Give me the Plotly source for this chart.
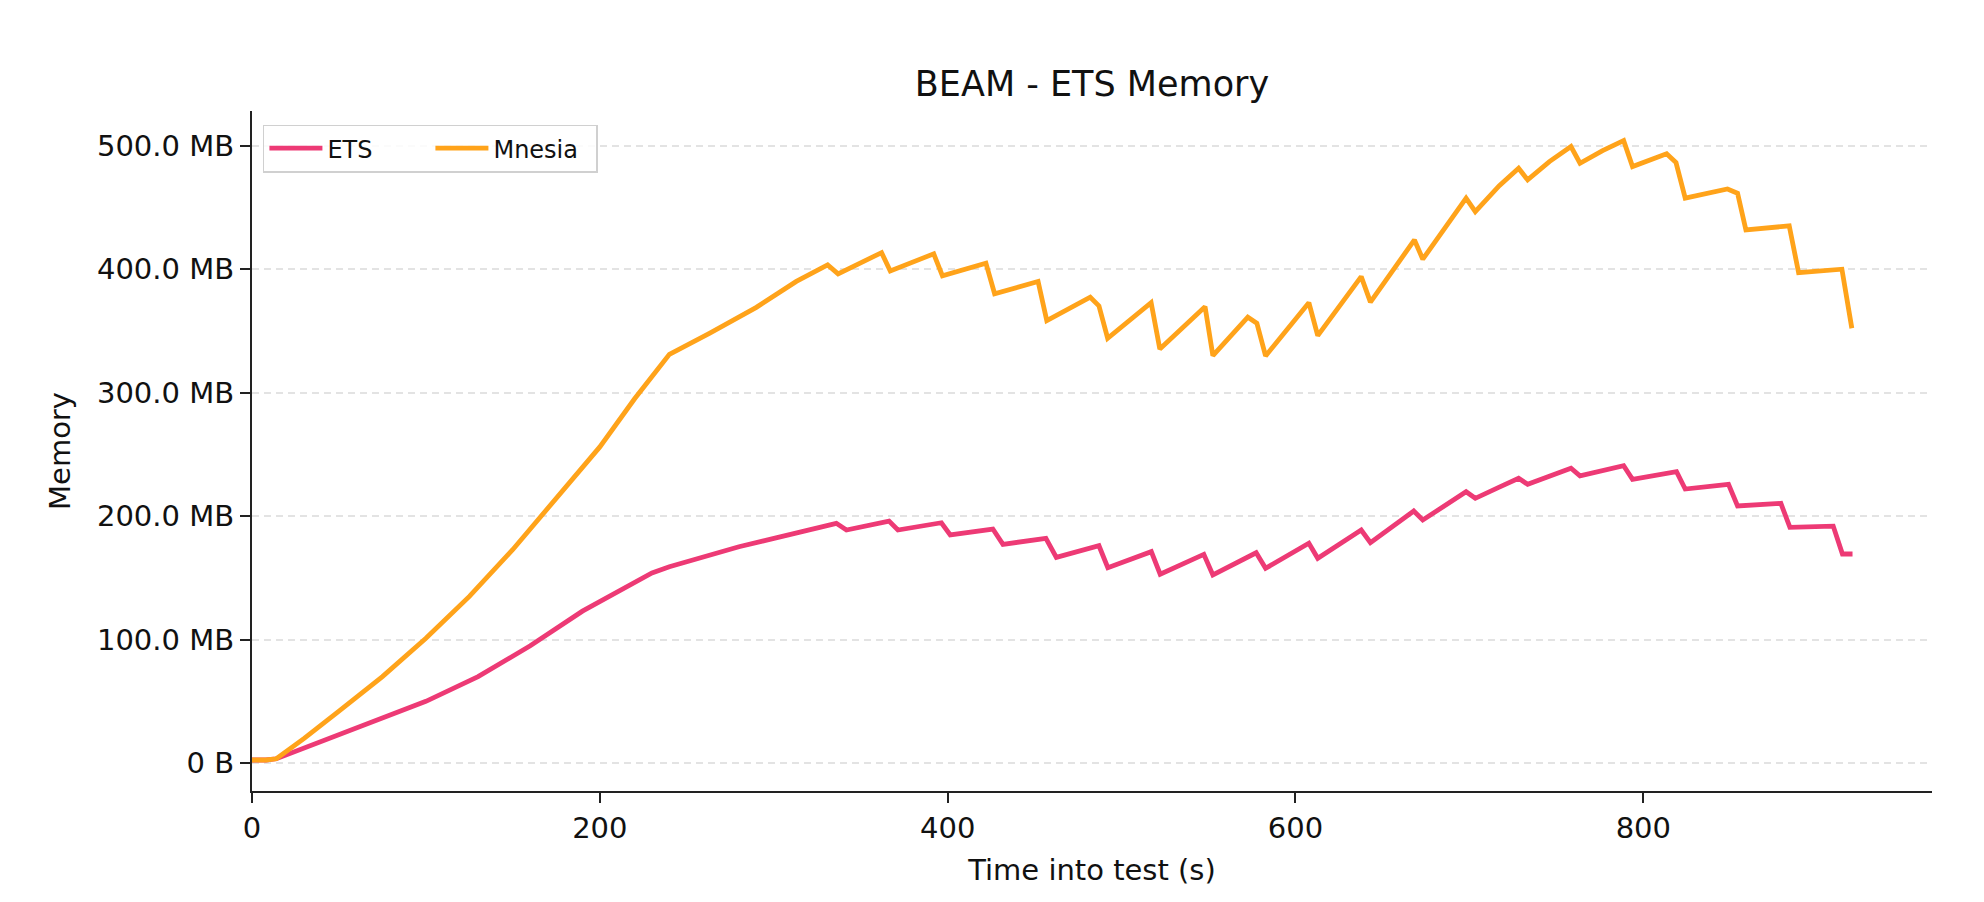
import plotly.graph_objects as go

# ---- data (MB over seconds into test) ----
ets_time = [0, 8, 14, 40, 70, 100, 130, 160, 190, 215, 230, 240, 280, 336, 341.8, 366.3, 371.4,
            396.4, 401.5, 426, 431.8, 456.5, 462.5, 487, 492.1, 517.1, 522.2, 547.3,
            552.5, 577.4, 582.8, 607.7, 612.8, 637.8, 643.1, 668, 673.2, 698.1, 703.4,
            717.2, 728.3, 733.5, 758.4, 763.6, 788.7, 793.8, 819.1, 824.1, 849, 854.2,
            879.1, 884.3, 909.2, 914.5, 920.3]
ets_mb = [2.5, 2.5, 3.5, 17.5, 33, 50, 70, 95, 123, 143, 154, 159, 175.2, 194.1, 188.7, 196, 188.7,
          194.6, 184.7, 189.5, 177.1, 182, 166.6, 176, 158.2, 171.2, 152.9, 169,
          152.3, 170.3, 157.7, 178, 165.8, 188.7, 178.4, 204.1, 196.8, 219.7, 214.4,
          223.5, 230.6, 225.7, 238.7, 232.5, 240.8, 229.8, 236, 221.9, 225.7, 208.2,
          210.3, 190.9, 191.9, 169.3, 169.3]

mnesia_time = [0, 8, 14, 30, 50, 75, 100, 125, 150, 175, 200, 220, 240, 263, 290, 313, 331, 337,
               362, 367, 392, 397, 422, 427, 452, 457, 482, 487, 492, 517, 522, 548, 552.5,
               572.6, 577.8, 582.8, 607.7, 612.8, 637.8, 643.1, 668.4, 673.2, 698.1, 703.4,
               717.2, 728.3, 733.5, 746, 758.4, 763.6, 776.6, 788.7, 793.8, 813.4, 818.8,
               824.1, 848.4, 854.2, 859, 883.9, 889.3, 914.2, 919.9]
mnesia_mb = [2.5, 2.5, 3.5, 20, 42, 70, 101, 135, 173, 214, 256, 295, 331, 348, 369, 390, 403.4,
             396.1, 413.3, 398.5, 412.3, 394.5, 404.8, 380, 389.9, 358.3, 377.2, 370.2, 344,
             372.8, 335.3, 369.6, 329.9, 361, 356.2, 329.7, 372.8, 346.1, 393.9, 373.2, 423.6,
             408, 457.4, 446.5, 467.5, 481.7, 472.2, 487, 499.2, 485.7, 495.9, 504, 483, 493.3,
             486.2, 457.4, 464.9, 461.4, 431.7, 435, 397.1, 399.9, 352.1]

y_tick_vals = [0, 100, 200, 300, 400, 500]
y_tick_text = ["0 B", "100.0 MB", "200.0 MB", "300.0 MB", "400.0 MB", "500.0 MB"]
x_tick_vals = [0, 200, 400, 600, 800]

ETS_COLOR = "#ED3A75"
MNESIA_COLOR = "#FFA31A"
FONT = "DejaVu Sans"
TXT = "#111"

fig = go.Figure()
fig.add_trace(go.Scatter(x=ets_time, y=ets_mb, mode="lines", name="ETS",
                         line=dict(color=ETS_COLOR, width=4.8)))
fig.add_trace(go.Scatter(x=mnesia_time, y=mnesia_mb, mode="lines", name="Mnesia",
                         line=dict(color=MNESIA_COLOR, width=4.8)))

fig.update_layout(
    width=1984, height=902,
    margin=dict(l=252, r=52, t=111, b=111),
    paper_bgcolor="white", plot_bgcolor="white",
    font=dict(family=FONT, size=29, color=TXT),
    title=dict(text="BEAM - ETS Memory", x=0.5, xref="paper", xanchor="center",
               y=1 - 83.5 / 902, yref="container", yanchor="middle",
               font=dict(family=FONT, size=35, color=TXT)),
    legend=dict(orientation="h", x=0.0065, y=0.98, xanchor="left", yanchor="top",
                bgcolor="rgba(255,255,255,0.85)", bordercolor="#d0d0d0", borderwidth=1.5,
                font=dict(family=FONT, size=24, color=TXT),
                itemwidth=53, entrywidth=98, entrywidthmode="pixels",
                tracegroupgap=0),
    showlegend=True,
)

fig.update_xaxes(
    range=[0, 966], tickvals=x_tick_vals, showgrid=False, zeroline=False,
    showline=True, linecolor="#222", linewidth=2.2,
    ticks="outside", ticklen=10, tickwidth=2.2, tickcolor="#222",
    tickfont=dict(family=FONT, size=29, color=TXT),
    title=dict(text="Time into test (s)", standoff=16,
               font=dict(family=FONT, size=29, color=TXT)),
)
fig.update_yaxes(
    range=[-22.6, 528], tickvals=y_tick_vals, ticktext=y_tick_text,
    showgrid=True, gridcolor="#e3e3e3", gridwidth=2, griddash="7px,5px",
    zeroline=False, showline=True, linecolor="#222", linewidth=2.2,
    ticks="outside", ticklen=10, tickwidth=2.2, tickcolor="#222",
    tickfont=dict(family=FONT, size=29, color=TXT),
    title=dict(text="Memory", standoff=18,
               font=dict(family=FONT, size=29, color=TXT)),
)

fig.write_html("out.html")
